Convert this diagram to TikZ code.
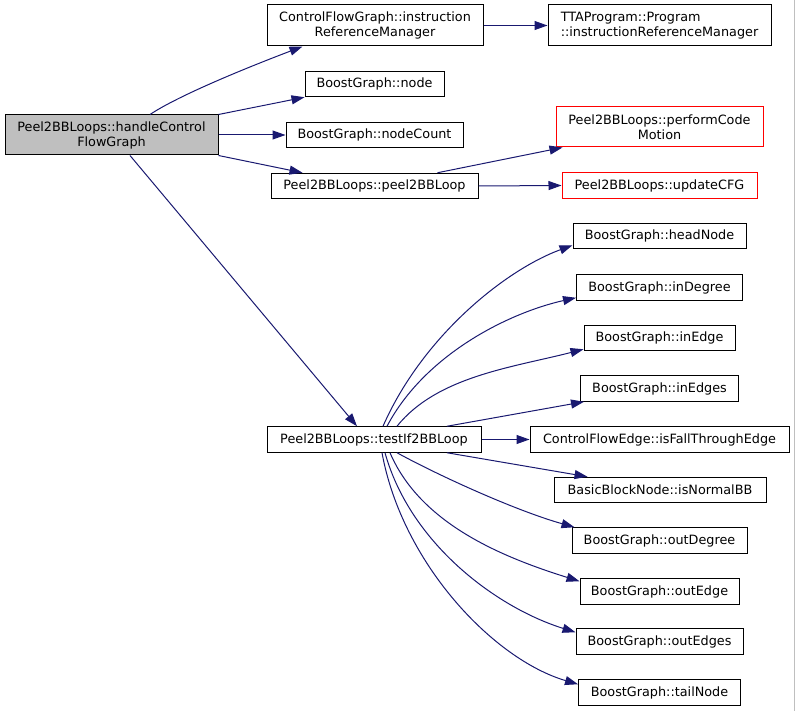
\documentclass[tikz,border=0pt]{standalone}
\usepackage{fontspec}
\setmainfont{DejaVu Sans}
\usepackage{tikz}
\usetikzlibrary{arrows.meta, calc}
\definecolor{edgeblue}{HTML}{191970}
\definecolor{callergray}{HTML}{BFBFBF}

\begin{document}
\begin{tikzpicture}[x=1pt, y=-1pt,
    fn/.style={draw=black, line width=1pt, fill=white, inner sep=0pt, minimum height=25.5pt,
        font=\fontsize{12.8}{15}\selectfont, align=center},
    fnred/.style={fn, draw=red},
    call/.style={draw=edgeblue, line width=1pt, -{Triangle[length=13pt, width=9pt]}}]
    \useasboundingbox (0,0) rectangle (795,711);
    \draw[gray!50] (794.5,0)--(794.5,711);

    \node[fn, fill=callergray, minimum width=213pt, minimum height=40pt] (handle) at (111.5,135) {Peel2BBLoops::handleControl\\FlowGraph};
    \node[fn, minimum width=216pt, minimum height=41pt] (cfgRef) at (375,25.5) {ControlFlowGraph::instruction\\ReferenceManager};
    \node[fn, minimum width=223pt, minimum height=41pt, align=left] (ttaRef) at (659.5,25.5) {TTAProgram::Program\\::instructionReferenceManager};
    \node[fn, minimum width=139pt] (bgNode) at (374.5,84) {BoostGraph::node};
    \node[fn, minimum width=177pt] (nodeCount) at (374.5,135) {BoostGraph::nodeCount};
    \node[fn, minimum width=207pt] (peelLoop) at (374.5,186) {Peel2BBLoops::peel2BBLoop};
    \node[fnred, minimum width=207pt, minimum height=40pt] (codeMotion) at (659.5,127) {Peel2BBLoops::performCode\\Motion};
    \node[fnred, minimum width=195pt, minimum height=26.5pt] (updateCFG) at (659.5,185.5) {Peel2BBLoops::updateCFG};
    \node[fn, minimum width=214pt] (testLoop) at (374,439.5) {Peel2BBLoops::testIf2BBLoop};

    \foreach \n/\y/\w in {headNode/236/173, inDegree/287.5/166, inEdge/338/151, inEdges/388.5/158,
        outDegree/540.5/175, outEdge/591.5/159, outEdges/641.5/167, tailNode/692.5/162} {
        \node[fn, minimum width=\w pt] (\n) at (659.5,\y) {BoostGraph::\n};
    }
    \node[fn, minimum width=259pt] (fallThrough) at (659.5,439.5) {ControlFlowEdge::isFallThroughEdge};
    \node[fn, minimum width=212pt] (normalBB) at (660,490) {BasicBlockNode::isNormalBB};

    \draw[call] ([xshift=38.5pt]handle.north) .. controls +(30,-20) and +(-50,19) .. ([xshift=36pt]cfgRef.south west);
    \draw[call] (handle.north east) -- (bgNode.south west);
    \draw[call] (handle.east) -- (nodeCount.west);
    \draw[call] (handle.south east) -- ([xshift=32pt]peelLoop.north west);
    \draw[call] ([xshift=18.5pt]handle.south) -- ([xshift=-17pt]testLoop.north);
    \draw[call] (cfgRef.east) -- (ttaRef.west);
    \draw[call] ([xshift=63pt]peelLoop.north) -- ([xshift=7pt]codeMotion.south west);
    \draw[call] (peelLoop.east) -- (updateCFG.west);

    \draw[call] ([xshift=9pt]testLoop.north) .. controls +(39,-89) and +(-68,25) .. ([yshift=4pt]headNode.south west);
    \draw[call] ([xshift=13pt]testLoop.north) .. controls +(38,-72) and +(-67,15) .. ([yshift=3pt]inDegree.south west);
    \draw[call] ([xshift=23pt]testLoop.north) .. controls +(40,-50) and +(-70,18) .. ([yshift=2pt]inEdge.south west);
    \draw[call] ([xshift=73pt]testLoop.north) -- ([xshift=4pt]inEdges.south west);
    \draw[call] (testLoop.east) -- (fallThrough.west);
    \draw[call] ([xshift=73pt]testLoop.south) -- ([xshift=34pt]normalBB.north west);
    \draw[call] ([xshift=23pt]testLoop.south) .. controls +(40,22) and +(-60,-17) .. ([xshift=3pt]outDegree.north west);
    \draw[call] ([xshift=16pt]testLoop.south) .. controls +(30,70) and +(-80,-25) .. ([yshift=-3pt]outEdge.north west);
    \draw[call] ([xshift=11pt]testLoop.south) .. controls +(25,90) and +(-80,-25) .. ([yshift=-4pt]outEdges.north west);
    \draw[call] ([xshift=8pt]testLoop.south) .. controls +(20,110) and +(-85,-25) .. ([yshift=-5pt]tailNode.north west);
\end{tikzpicture}
\end{document}
